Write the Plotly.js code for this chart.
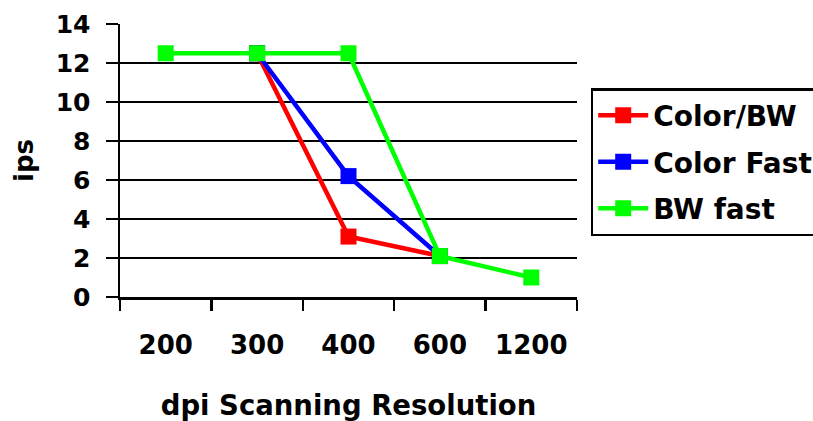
<!DOCTYPE html>
<html>
<head>
<meta charset="utf-8">
<script src="https://cdn.plot.ly/plotly-3.0.1.min.js"></script>
<style>html,body{margin:0;padding:0;background:#fff;}</style>
</head>
<body>
<div id="chart" style="width:813px;height:421px;"></div>
<script>
const categories = ["200", "300", "400", "600", "1200"];
const colorBW = [null, 12.5, 3.1, 2.1, null];
const colorFast = [null, 12.5, 6.2, 2.1, null];
const bwFast = [12.5, 12.5, 12.5, 2.1, 1.0];
const seriesNames = ["Color/BW", "Color Fast", "BW fast"];
const seriesColors = ["#ff0000", "#0000ff", "#00ff00"];
const yTicks = [0, 2, 4, 6, 8, 10, 12, 14];

const FONT = "DejaVu Sans, Liberation Sans, Arial, sans-serif";
const seriesData = [colorBW, colorFast, bwFast];

const traces = seriesData.map((vals, i) => ({
  type: "scatter",
  mode: "lines+markers",
  x: categories,
  y: vals,
  name: seriesNames[i],
  legendgroup: "g" + i,
  line: {color: seriesColors[i], width: 4.5},
  marker: {color: seriesColors[i], symbol: "square", size: 16},
  connectgaps: false
}));

const layout = {
  width: 813,
  height: 421,
  margin: {l: 120, r: 236, t: 24, b: 124, autoexpand: false},
  paper_bgcolor: "#ffffff",
  plot_bgcolor: "#ffffff",
  font: {family: FONT, color: "#000000", size: 24, weight: "bold"},
  showlegend: true,
  legend: {
    x: 1.03, y: 0.765, xanchor: "left", yanchor: "top",
    bordercolor: "#000000", borderwidth: 2.5,
    font: {family: FONT, size: 28, color: "#000000", weight: "bold"},
    traceorder: "grouped",
    tracegroupgap: 7,
    itemwidth: 50
  },
  xaxis: {
    type: "category",
    range: [-0.5, 4.5],
    showgrid: false,
    showline: true, linecolor: "#000000", linewidth: 2.5,
    ticks: "outside", tickson: "boundaries", ticklen: 11, tickwidth: 2.5, tickcolor: "#000000",
    tickfont: {family: FONT, size: 26, color: "#000000", weight: "bold"},
    ticklabelstandoff: 23,
    title: {text: "dpi Scanning Resolution", font: {family: FONT, size: 27.5, color: "#000000", weight: "bold"}, standoff: 40},
    zeroline: false
  },
  yaxis: {
    range: [0, 14],
    tickvals: yTicks,
    ticktext: yTicks.map(String),
    showgrid: true, gridcolor: "#000000", gridwidth: 2.5,
    showline: true, linecolor: "#000000", linewidth: 2.5,
    ticks: "outside", ticklen: 12, tickwidth: 2.5, tickcolor: "#000000",
    tickfont: {family: FONT, size: 25, color: "#000000", weight: "bold"},
    ticklabelstandoff: 10,
    title: {text: "ips", font: {family: FONT, size: 26, color: "#000000", weight: "bold"}, standoff: 15},
    zeroline: false
  }
};

Plotly.newPlot("chart", traces, layout, {displayModeBar: false, staticPlot: true});
</script>
</body>
</html>
